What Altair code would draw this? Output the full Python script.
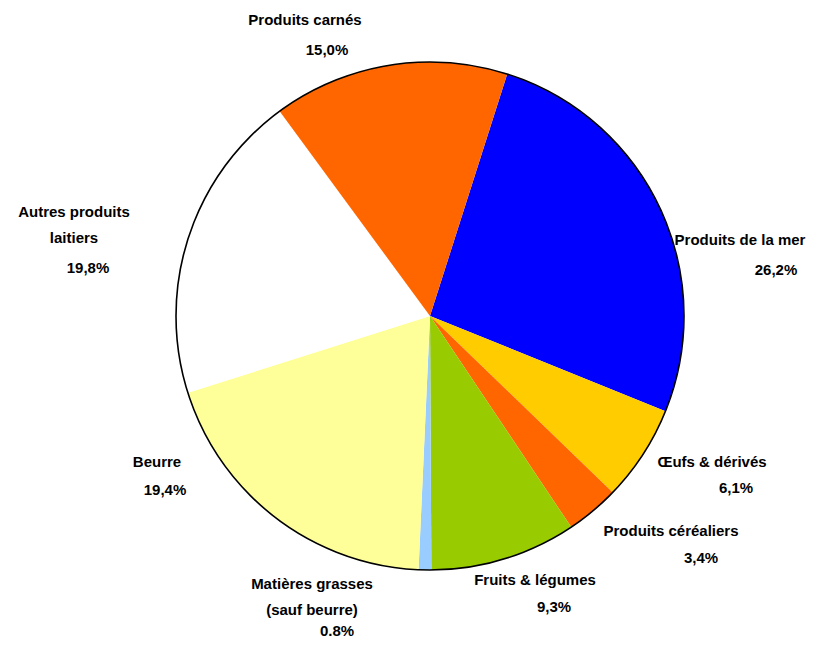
import math
import altair as alt
import pandas as pd

# ---- data ----
categories = ["Produits de la mer", "Œufs & dérivés", "Produits céréaliers",
              "Fruits & légumes", "Matières grasses\n(sauf beurre)", "Beurre",
              "Autres produits\nlaitiers", "Produits carnés"]
shares = [26.2, 6.1, 3.4, 9.3, 0.8, 19.4, 19.8, 15.0]
pct_text = ["26,2%", "6,1%", "3,4%", "9,3%", "0.8%", "19,4%", "19,8%", "15,0%"]
colors = ["#0000FF", "#FFCC00", "#FF6600", "#99CC00", "#99CCFF", "#FFFF99",
          "#FFFFFF", "#FF6600"]

# ---- label layout: offsets (px) of each label line from the pie centre ----
name_dx = [310, 282, 241, 105, -118, -273, -356, -125]
name_dy = [-76, 146, 215, 264, 268, 146, -104, -296]
pct_dx = [346, 306, 271, 124, -93, -265, -342, -103]
pct_dy = [-46, 172, 242, 291, 315, 174, -48, -266]


def polar(dx, dy):
    return math.atan2(dx, -dy), math.hypot(dx, dy)


df = pd.DataFrame({
    "cat": categories,
    "share": shares,
    "order": list(range(len(categories))),
    "pct": pct_text,
    "n_ang": [polar(x, y)[0] for x, y in zip(name_dx, name_dy)],
    "n_rad": [polar(x, y)[1] for x, y in zip(name_dx, name_dy)],
    "p_ang": [polar(x, y)[0] for x, y in zip(pct_dx, pct_dy)],
    "p_rad": [polar(x, y)[1] for x, y in zip(pct_dx, pct_dy)],
})

start = math.radians(17.7)
R = 254

pie = alt.Chart(df).mark_arc(radius=R, strokeWidth=0).encode(
    theta=alt.Theta("share:Q", stack=True,
                    scale=alt.Scale(range=[start, start + 2 * math.pi])),
    order=alt.Order("order:Q"),
    color=alt.Color("cat:N", scale=alt.Scale(domain=categories, range=colors),
                    legend=None),
)

outline = alt.Chart(pd.DataFrame({"v": [1]})).mark_arc(
    radius=R, theta=0, theta2=2 * math.pi, fillOpacity=0,
    stroke="black", strokeWidth=1.6
).encode(color=alt.value("white"))

text_style = dict(font="Liberation Sans", fontWeight="bold", fontSize=15,
                  lineBreak="\n", lineHeight=26, align="center",
                  baseline="middle", color="black")

names = alt.Chart(df).mark_text(**text_style).encode(
    theta=alt.Theta("n_ang:Q", scale=None),
    radius=alt.Radius("n_rad:Q", scale=None),
    text="cat:N",
)

pcts = alt.Chart(df).mark_text(**text_style).encode(
    theta=alt.Theta("p_ang:Q", scale=None),
    radius=alt.Radius("p_rad:Q", scale=None),
    text="pct:N",
)

chart = alt.layer(pie, outline, names, pcts).properties(
    width=754, height=616,
    padding={"left": 45, "top": 0, "right": 0, "bottom": 17},
    autosize=alt.AutoSizeParams(type="none"),
).configure_view(stroke=None)

chart.save("out.html", embed_options={"renderer": "svg", "actions": False})
